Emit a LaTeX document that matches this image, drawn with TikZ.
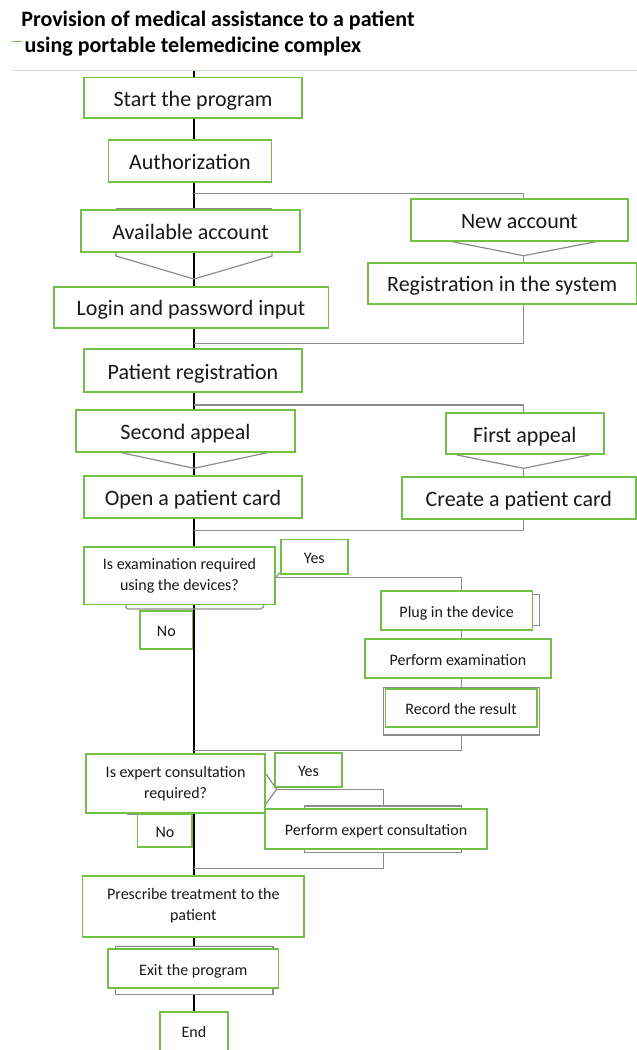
\documentclass[tikz,border=0pt]{standalone}
\usepackage{fontspec}
\setmainfont{Carlito}
\usetikzlibrary{backgrounds}
\definecolor{bgreen}{RGB}{112,192,72}
\definecolor{lgray}{RGB}{140,140,140}
\definecolor{rulec}{RGB}{205,222,198}
\definecolor{txt}{RGB}{25,25,25}
\begin{document}
\begin{tikzpicture}[x=1pt,y=-1pt,
 gbox/.style={draw=bgreen, line width=1.8pt, fill=white, inner sep=0pt, text=txt},
 bigt/.style={font=\fontsize{22}{26}\selectfont, text height=17pt, text depth=0pt},
 smallt/.style={font=\fontsize{16}{21}\selectfont, text height=13pt, text depth=0pt},
 twoline/.style={font=\fontsize{16}{21}\selectfont, align=center},
 gline/.style={draw=lgray, line width=1.2pt},
 mainline/.style={draw=black, line width=2pt},
 shadowbox/.style={draw=lgray, line width=1.2pt, fill=white},
 titlet/.style={anchor=base west, inner sep=0pt, font=\bfseries\fontsize{22}{26}\selectfont, text=black}
]
\useasboundingbox (0,0) rectangle (637,1050);

% title
\node[titlet] (t1) at (21.1,26) {Provision of medical assistance to a patient};
\node[titlet] (t2) at (24.4,52.3) {using portable telemedicine complex};
\coordinate (dashA) at (12,41.5);
\coordinate (dashB) at (22,41.5);
\draw[bgreen, line width=1.5pt] (dashA) -- (dashB);
\coordinate (ruleA) at (12,70.7);
\coordinate (ruleB) at (637,70.7);
\draw[rulec, line width=1pt] (ruleA) -- (ruleB);

% shadows behind some boxes
\draw[shadowbox] (383.3,687.3) rectangle (539.8,735);
\draw[shadowbox] (304.3,806) rectangle (461.4,852.3);
\draw[shadowbox] (115.8,946.7) rectangle (273,994.3);
\draw[gline, rounded corners=2pt] (126,603) -- (126,609) -- (262.7,609) -- (264.5,603);
\draw[gline] (128,812) -- (128,814.5) -- (138,814.5);
\draw[gline] (532.5,594.3) -- (539.8,594.3) -- (539.8,625.7) -- (532.5,625.7);
\draw[gline] (116,209) -- (272,209);

% boxes
\node[gbox,bigt,minimum width=218pt,minimum height=40.5pt] (start) at (193,97.75) {Start the program};
\node[gbox,bigt,minimum width=163pt,minimum height=42pt] (auth) at (190,161) {Authorization};
\node[gbox,bigt,minimum width=219pt,minimum height=42pt] (avail) at (190.5,231) {Available account};
\node[gbox,bigt,minimum width=217.4pt,minimum height=42pt] (newacc) at (519.3,220) {New account};
\node[gbox,bigt,minimum width=274.8pt,minimum height=41pt] (login) at (191.1,307.2) {Login and password input};
\node[gbox,bigt,minimum width=268.5pt,minimum height=41.3pt] (regsys) at (502.2,283.3) {Registration in the system};
\node[gbox,bigt,minimum width=218pt,minimum height=42.4pt] (patreg) at (193,370.5) {Patient registration};
\node[gbox,bigt,minimum width=218.3pt,minimum height=41.7pt] (second) at (185.5,430.8) {Second appeal};
\node[gbox,bigt,minimum width=157.7pt,minimum height=41.6pt] (first) at (524.8,433.5) {First appeal};
\node[gbox,bigt,minimum width=218pt,minimum height=41.7pt] (open) at (193,496.8) {Open a patient card};
\node[gbox,bigt,minimum width=234.4pt,minimum height=41.7pt] (create) at (518.8,498.1) {Create a patient card};
\node[gbox,twoline,minimum width=191pt,minimum height=57.2pt] (dec1) at (179.5,575.9) {Is examination required\\using the devices?};
\node[gbox,smallt,minimum width=66.6pt,minimum height=34.5pt] (yes1) at (314.3,556.7) {Yes};
\node[gbox,smallt,minimum width=52.3pt,minimum height=38pt] (no1) at (166.3,630) {No};
\node[gbox,smallt,minimum width=151.5pt,minimum height=39pt] (plug) at (456.7,610.5) {Plug in the device};
\node[gbox,smallt,minimum width=185.8pt,minimum height=39pt] (perfexam) at (457.9,658.8) {Perform examination};
\node[gbox,smallt,minimum width=151.2pt,minimum height=38.3pt] (record) at (461,708.2) {Record the result};
\node[gbox,twoline,minimum width=178.8pt,minimum height=58.7pt] (dec2) at (175.6,783.3) {Is expert consultation\\required?};
\node[gbox,smallt,minimum width=66.3pt,minimum height=33.4pt] (yes2) at (308.5,770) {Yes};
\node[gbox,smallt,minimum width=54.9pt,minimum height=33.3pt] (no2) at (164.9,830.7) {No};
\node[gbox,smallt,minimum width=221.8pt,minimum height=39.7pt] (perfexp) at (376.1,829.2) {Perform expert consultation};
\node[gbox,twoline,minimum width=221.5pt,minimum height=61pt] (prescribe) at (193.3,906.2) {Prescribe treatment to the\\patient};
\node[gbox,smallt,minimum width=170.5pt,minimum height=39.3pt] (exit) at (193.3,968.7) {Exit the program};
\node[gbox,smallt,minimum width=68.4pt,minimum height=39.4pt] (end) at (194,1031.4) {End};

% connectors
\begin{pgfonlayer}{background}
\coordinate (top) at (194,71);
\coordinate (rc) at (523.6,0);
\coordinate (ec) at (461.4,0);
\draw[mainline] (top) -- (top |- end.north);
% authorization branch
\coordinate (b1) at (194,193.5);
\draw[gline] (b1) -| (rc |- newacc.north);
\coordinate (v1) at (523.6,255.7);
\coordinate (v1a) at (449,241);
\coordinate (v1b) at (599.6,241);
\draw[gline] (v1a) -- (v1) -- (v1b);
\draw[gline] (v1) -- (rc |- regsys.north);
\coordinate (m1) at (194,343.3);
\draw[gline] (rc |- regsys.south) |- (m1);
% available account merge
\coordinate (va1) at (116,252);
\coordinate (va2) at (116,256);
\coordinate (va3) at (194,279);
\coordinate (va4) at (272,256);
\coordinate (va5) at (272,252);
\draw[gline] (va1) -- (va2) -- (va3) -- (va4) -- (va5);
% patient registration branch
\coordinate (b2) at (194,405);
\draw[gline] (b2) -| (rc |- first.north);
\coordinate (v2) at (523.6,468.3);
\coordinate (v2a) at (457,455);
\coordinate (v2b) at (589.4,455);
\draw[gline] (v2a) -- (v2) -- (v2b);
\draw[gline] (v2) -- (rc |- create.north);
\coordinate (s1) at (117,451.7);
\coordinate (s2) at (194,468.3);
\coordinate (s3) at (272,451.7);
\draw[gline] (s1) -- (s2) -- (s3);
\coordinate (m2) at (194,530.7);
\draw[gline] (rc |- create.south) |- (m2);
% examination branch
\coordinate (d1) at (276,577.7);
\coordinate (d1t) at (279.5,572.5);
\draw[gline] (d1) -| (ec |- plug.north);
\draw[gline] (d1t) -- (d1);
\draw[gline] (ec |- plug.south) -- (ec |- perfexam.north);
\draw[gline] (ec |- perfexam.south) -- (ec |- record.north);
\coordinate (recb) at (461.4,735);
\coordinate (m3) at (194,750.7);
\draw[gline] (recb) |- (m3);
% consultation branch
\coordinate (d2) at (276.7,789.3);
\coordinate (d2a) at (265,772.7);
\coordinate (d2b) at (265,805);
\draw[gline] (d2a) -- (d2) -- (d2b);
\coordinate (expt) at (383.3,806);
\draw[gline] (d2) -| (expt);
\coordinate (expb) at (383.3,852.3);
\coordinate (m4) at (194,868.3);
\draw[gline] (expb) |- (m4);
\end{pgfonlayer}
\end{tikzpicture}
\end{document}
